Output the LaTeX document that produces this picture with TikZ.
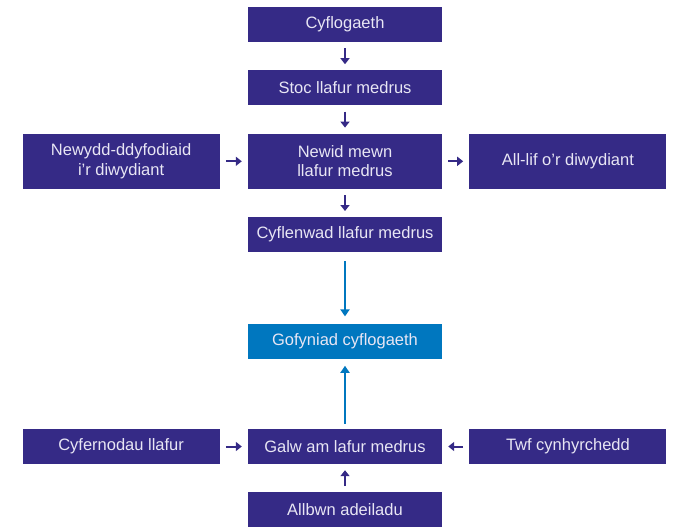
\documentclass[tikz,border=0pt]{standalone}
\usepackage{fontspec}
\setmainfont{Liberation Sans}
\usepackage{tikz}
\usetikzlibrary{arrows.meta, positioning}
\definecolor{darkbox}{HTML}{352A86}
\definecolor{lightbox}{HTML}{0077BF}
\definecolor{boxtext}{HTML}{E8E6F4}
\tikzstyle{midbox} = [rectangle, minimum width=194pt, minimum height=35pt, text centered, fill=darkbox, text=boxtext, font=\fontsize{16.5}{19.5}\selectfont, inner sep=0pt]
\tikzstyle{sidebox} = [midbox, minimum width=197pt]
\tikzstyle{arrow} = [line width=2pt, darkbox, -{Triangle[length=6pt,width=9pt]}, shorten <=6pt, shorten >=6pt]
\tikzstyle{bluearrow} = [line width=2pt, lightbox, -{Triangle[length=7pt,width=9pt]}]

\begin{document}
\begin{tikzpicture}[x=1pt, y=1pt, node distance=28pt, every node/.style={align=center}]
\useasboundingbox (0,0) rectangle (675,-528);
\node [midbox] (cyf) at (345,-24.5) {Cyflogaeth};
\node [midbox, below=of cyf] (stoc) {Stoc llafur medrus};
\node [midbox, minimum height=55pt, below=of stoc] (newid) {Newid mewn\\llafur medrus};
\node [sidebox, minimum height=55pt, left=of newid] (newydd) {Newydd-ddyfodiaid\\i’r diwydiant};
\node [sidebox, minimum height=55pt, right=27pt of newid] (alllif) {All-lif o’r diwydiant};
\node [midbox, below=of newid] (cyflenwad) {Cyflenwad llafur medrus};
\node [midbox, fill=lightbox, below=71pt of cyflenwad] (gofyniad) {Gofyniad cyflogaeth};
\node [midbox, below=70pt of gofyniad] (galw) {Galw am lafur medrus};
\node [sidebox, left=of galw] (cyfernodau) {Cyfernodau llafur};
\node [sidebox, right=27pt of galw] (twf) {Twf cynhyrchedd};
\node [midbox, below=of galw] (allbwn) {Allbwn adeiladu};

% supply side
\draw [arrow] (cyf) -- (stoc);
\draw [arrow] (stoc) -- (newid);
\draw [arrow] (newydd) -- (newid);
\draw [arrow] (newid) -- (alllif);
\draw [arrow] (newid) -- (cyflenwad);
\draw [bluearrow, shorten <=9pt, shorten >=7pt] (cyflenwad) -- (gofyniad);

% demand side
\draw [bluearrow, shorten <=5pt, shorten >=7pt] (galw) -- (gofyniad);
\draw [arrow] (cyfernodau) -- (galw);
\draw [arrow] (twf) -- (galw);
\draw [arrow] (allbwn) -- (galw);
\end{tikzpicture}
\end{document}
